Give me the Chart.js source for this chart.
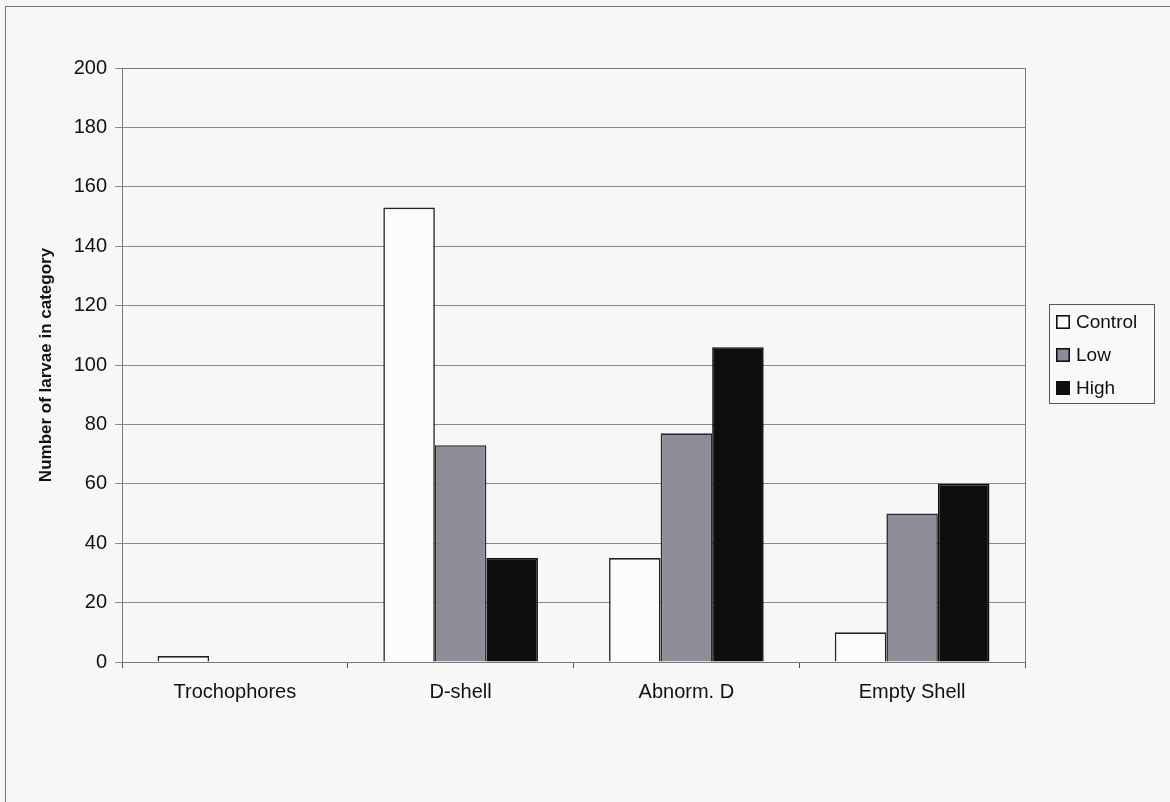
<!DOCTYPE html>
<html>
<head>
<meta charset="utf-8">
<script src="https://cdn.jsdelivr.net/npm/chart.js@4.4.1/dist/chart.umd.min.js"></script>
<style>
  html, body { margin: 0; padding: 0; background: #f7f7f7; overflow: hidden; }
  #wrap { position: absolute; left: 0; top: 0; width: 1170px; height: 802px; }
  #frame { position: absolute; left: 5px; top: 6px; width: 1200px; height: 900px;
           border-left: 1px solid #777; border-top: 1px solid #777; }
  canvas { position: absolute; left: 0; top: 0; }
</style>
</head>
<body>
<div id="wrap">
  <div id="frame"></div>
  <canvas id="c" width="1170" height="802"></canvas>
</div>
<script>
// Larval development counts per treatment
const categories = ['Trochophores', 'D-shell', 'Abnorm. D', 'Empty Shell'];
const seriesNames = ['Control', 'Low', 'High'];
const controlValues = [2, 153, 35, 10];
const lowValues = [0, 73, 77, 50];
const highValues = [0, 35, 106, 60];
const yTicks = [0, 20, 40, 60, 80, 100, 120, 140, 160, 180, 200];

const fills = ['#fbfbfb', '#8d8d98', '#0e0e0e'];
const edges = ['#222222', '#2a2a2a', '#0e0e0e'];
const valueSets = [controlValues, lowValues, highValues];

const FONT = 'Liberation Sans, Arial, sans-serif';

// Plot frame and legend box
const decorations = {
  id: 'decorations',
  afterDraw(chart) {
    const { ctx, chartArea: a } = chart;
    ctx.save();
    ctx.strokeStyle = '#7a7a7a';
    ctx.lineWidth = 1;
    ctx.strokeRect(a.left + 0.5, a.top + 0.5, a.right - a.left, a.bottom - a.top);

    // legend
    const lx = 1049, ly = 304, lw = 105, lh = 99;
    ctx.fillStyle = '#f9f9f9';
    ctx.fillRect(lx, ly, lw, lh);
    ctx.strokeStyle = '#555';
    ctx.strokeRect(lx + 0.5, ly + 0.5, lw, lh);
    ctx.font = '19px ' + FONT;
    ctx.textBaseline = 'middle';
    chart.data.datasets.forEach((ds, i) => {
      const cy = 322 + i * 33;
      ctx.fillStyle = ds.backgroundColor;
      ctx.fillRect(lx + 7, cy - 7, 14, 14);
      ctx.strokeStyle = '#111';
      ctx.lineWidth = 1.6;
      ctx.strokeRect(lx + 7.8, cy - 6.2, 12.4, 12.4);
      ctx.fillStyle = '#111';
      ctx.fillText(ds.label, lx + 27, cy + 1);
    });
    ctx.restore();
  }
};

new Chart(document.getElementById('c'), {
  type: 'bar',
  data: {
    labels: categories,
    datasets: seriesNames.map((name, i) => ({
      label: name,
      data: valueSets[i],
      backgroundColor: fills[i],
      borderColor: edges[i],
      borderWidth: 1.6,
      borderSkipped: 'bottom',
      barPercentage: 1.0,
      categoryPercentage: 0.685
    }))
  },
  options: {
    responsive: false,
    animation: false,
    devicePixelRatio: 1,
    layout: { padding: { left: 36, top: 68, right: 145, bottom: 0 } },
    plugins: { legend: { display: false }, tooltip: { enabled: false } },
    scales: {
      x: {
        grid: { display: true, drawOnChartArea: false, offset: true, tickLength: 6, color: '#555' },
        border: { color: '#555' },
        ticks: { color: '#111', font: { family: FONT, size: 20 }, padding: 12 },
        afterFit(scale) { scale.height = 802 - 662; }
      },
      y: {
        min: 0, max: 200,
        afterBuildTicks(scale) { scale.ticks = yTicks.map(v => ({ value: v })); },
        grid: { color: '#8a8a8a', tickLength: 7, lineWidth: 1 },
        border: { color: '#555' },
        ticks: { color: '#111', font: { family: FONT, size: 20 }, padding: 8 },
        title: {
          display: true,
          text: 'Number of larvae in category',
          color: '#111',
          font: { family: FONT, size: 17, weight: 'bold' },
          padding: { top: 0, bottom: 0 }
        },
        afterFit(scale) { scale.width = 86; }
      }
    }
  },
  plugins: [decorations]
});
</script>
</body>
</html>
